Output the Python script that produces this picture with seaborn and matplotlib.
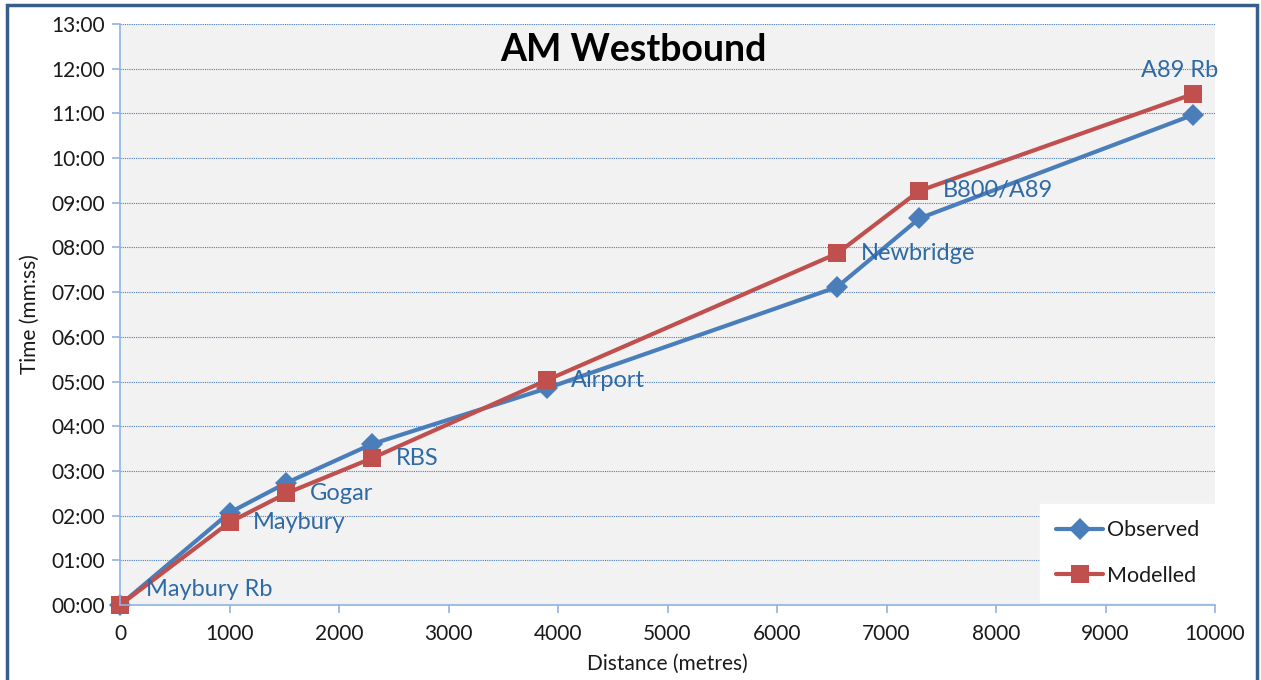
import matplotlib
matplotlib.use("Agg")
import matplotlib.pyplot as plt
import seaborn as sns
import pandas as pd
from matplotlib.ticker import FuncFormatter
from matplotlib.patches import Rectangle

# ---- data ----
distance = [0, 1000, 1520, 2300, 3900, 6550, 7300, 9800]
locations = ["Maybury Rb", "Maybury", "Gogar", "RBS", "Airport", "Newbridge", "B800/A89", "A89 Rb"]
observed = ["00:00", "02:04", "02:44", "03:36", "04:51", "07:07", "08:39", "10:58"]
modelled = ["00:00", "01:51", "02:30", "03:17", "05:02", "07:52", "09:16", "11:26"]
series_names = ["Observed", "Modelled"]
y_ticks = ["00:00", "01:00", "02:00", "03:00", "04:00", "05:00", "06:00",
           "07:00", "08:00", "09:00", "10:00", "11:00", "12:00", "13:00"]
x_ticks = [0, 1000, 2000, 3000, 4000, 5000, 6000, 7000, 8000, 9000, 10000]
title = "AM Westbound"


def to_sec(s):
    m, sec = s.split(":")
    return int(m) * 60 + int(sec)


rows = []
for name, vals in zip(series_names, [observed, modelled]):
    for d, v, loc in zip(distance, vals, locations):
        rows.append({"Distance": d, "Time": to_sec(v), "Series": name, "Location": loc})
df = pd.DataFrame(rows)

sns.set_theme(style="white")
plt.rcParams["font.family"] = ["Lato", "DejaVu Sans"]

fig = plt.figure(figsize=(12.61, 6.8), dpi=100)
ax = fig.add_axes([120 / 1261, 1 - 605 / 680, (1215 - 120) / 1261, (605 - 24) / 680])
ax.set_facecolor("#f2f2f2")

blue = "#4a7ebb"
red = "#c0504d"
sns.lineplot(data=df, x="Distance", y="Time", hue="Series", style="Series",
             hue_order=series_names, style_order=series_names,
             palette={"Observed": blue, "Modelled": red},
             markers={"Observed": "D", "Modelled": "s"}, dashes=False,
             linewidth=3, markersize=11, markeredgewidth=0, ax=ax, clip_on=False)
for ln in ax.lines:
    if ln.get_marker() == "s":
        ln.set_markersize(13)

ax.set_xlim(0, 10000)
ax.set_ylim(0, to_sec("13:00"))
ax.set_xticks(x_ticks)
ax.set_yticks([to_sec(t) for t in y_ticks])
ax.yaxis.set_major_formatter(FuncFormatter(lambda v, p: "%02d:%02d" % (int(v) // 60, int(v) % 60)))
ax.grid(axis="y", color="#4a7ebb", linestyle=(0, (1, 1)), linewidth=0.8)
ax.set_axisbelow(True)

for s in ["top", "right"]:
    ax.spines[s].set_visible(False)
for s in ["left", "bottom"]:
    ax.spines[s].set_color("#8eb4e3")
    ax.spines[s].set_linewidth(1.2)
ax.tick_params(axis="both", which="major", direction="out", length=6, width=1.2,
               color="#8eb4e3", labelsize=15, labelcolor="#1a1a1a", left=True, bottom=True)
ax.tick_params(axis="x", pad=8)
ax.tick_params(axis="y", pad=5)

ax.set_xlabel("Distance (metres)", fontsize=15, color="#1a1a1a", labelpad=7)
ax.set_ylabel("Time (mm:ss)", fontsize=15, color="#1a1a1a", labelpad=8)

fig.text(633 / 1261, 1 - 50 / 680, title, fontsize=27, fontweight="bold",
         ha="center", va="center", color="black")

# data labels on modelled series
lab_color = "#2e6aa6"
msub = df[df["Series"] == "Modelled"]
for i, (d, t, loc) in enumerate(zip(msub["Distance"], msub["Time"], msub["Location"])):
    if i == 0:
        off, ha, va = (19, 11), "left", "center"
    elif i == len(msub) - 1:
        off, ha, va = (-10, 17), "center", "center"
    else:
        off, ha, va = (17, 0), "left", "center"
    ax.annotate(loc, (d, t), xytext=off, textcoords="offset points",
                ha=ha, va=va, fontsize=17, color=lab_color)

leg = ax.legend(loc="lower right", frameon=True, fontsize=15.5, handlelength=2.2,
                borderpad=0.75, labelspacing=1.2, handletextpad=0.15, borderaxespad=0,
                bbox_to_anchor=(1.0, 0.005))
leg.get_frame().set_facecolor("white")
leg.get_frame().set_edgecolor("white")
leg.get_frame().set_alpha(1)
leg.get_frame().set_boxstyle("square", pad=0)
for t in leg.get_texts():
    t.set_color("#1a1a1a")

fig.patches.append(Rectangle((7 / 1261, -0.05), (1257 - 7) / 1261, 1.05 - 5 / 680,
                             transform=fig.transFigure, fill=False,
                             edgecolor="#385d8a", linewidth=2.5))

fig.savefig("out.png", dpi=100, facecolor="white")
